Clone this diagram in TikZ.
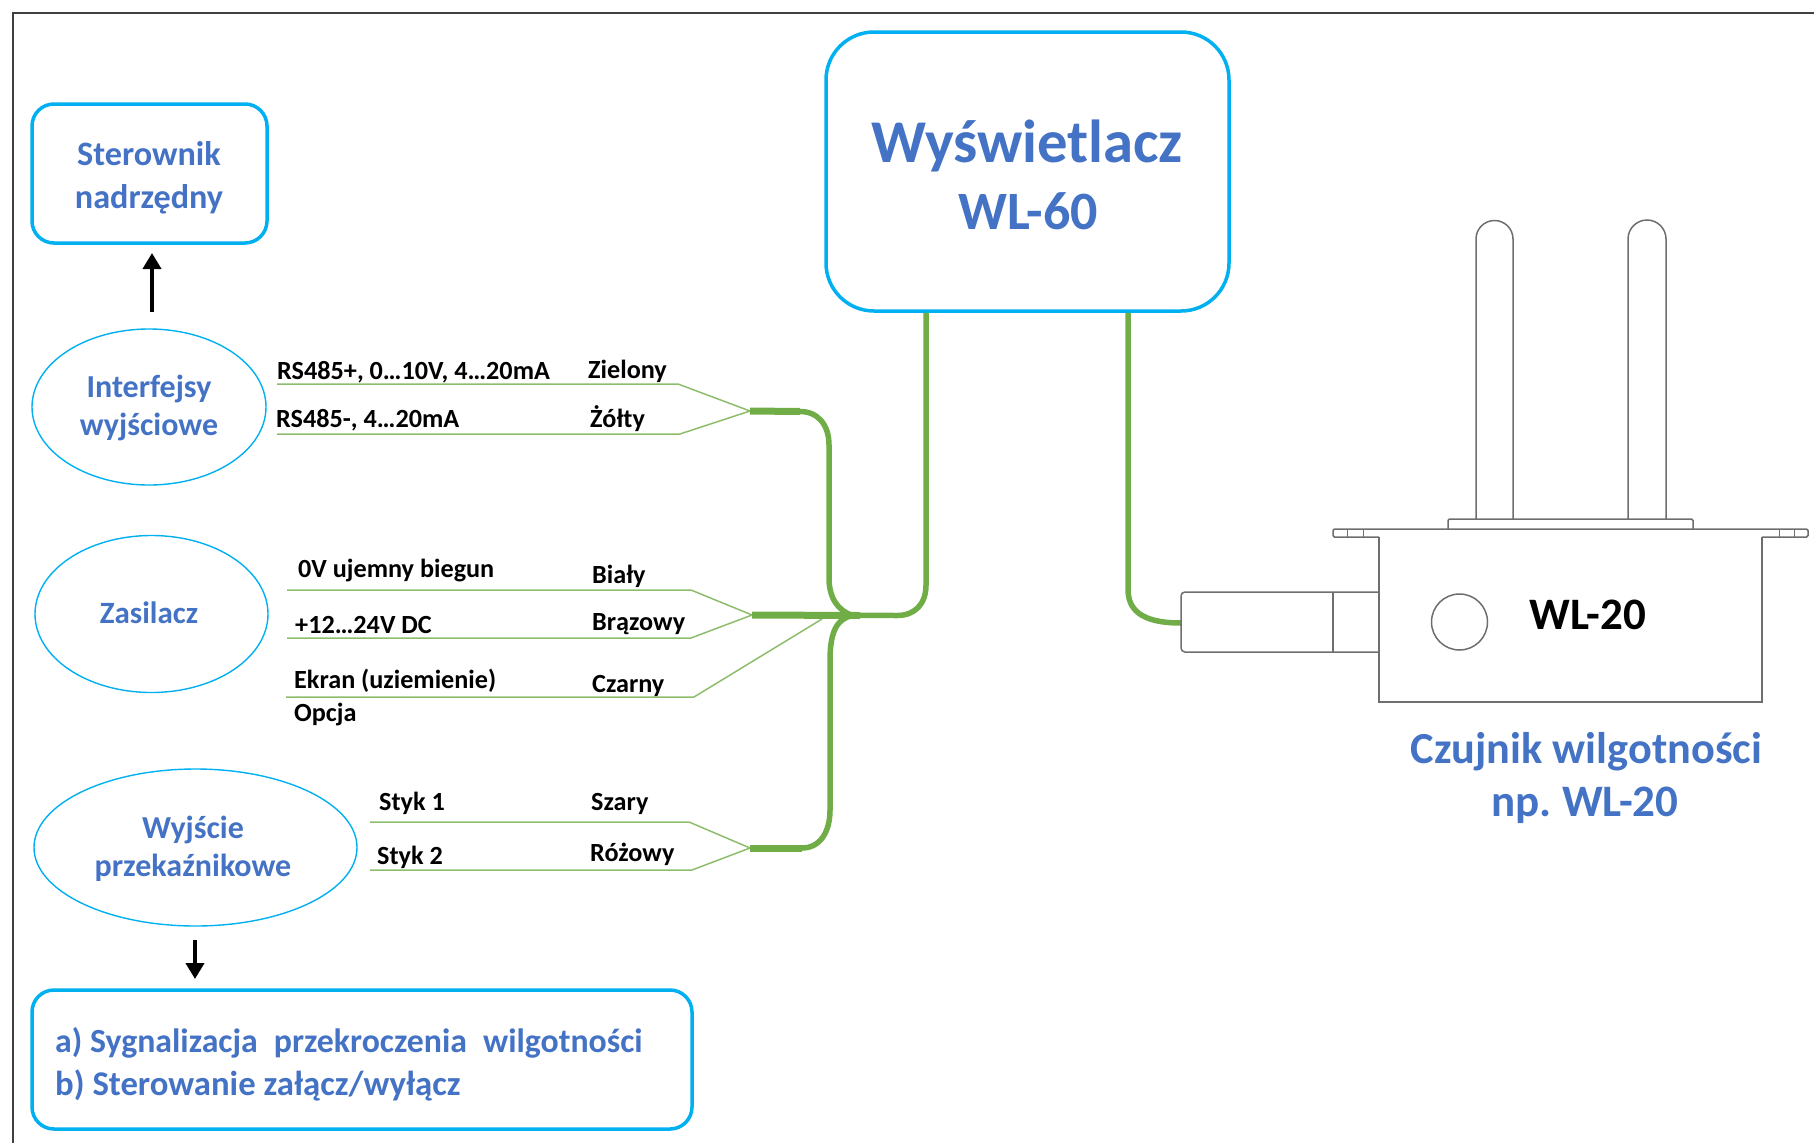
\documentclass[tikz,border=0pt]{standalone}
\usepackage{fontspec}
\setmainfont{Carlito}
\usetikzlibrary{shapes.geometric,arrows.meta}
\definecolor{cyanline}{HTML}{00B0F0}
\definecolor{bluetext}{HTML}{4472C4}
\definecolor{wire}{HTML}{70AD47}
\definecolor{sensorline}{HTML}{6E6E6E}
\tikzset{
  roundbox/.style={draw=cyanline,line width=3.5pt,rounded corners=#1,inner sep=0pt,fill=white},
  oval/.style={ellipse,draw=cyanline,line width=1.4pt,inner sep=0pt},
  bluelabel/.style={text=bluetext,font=\bfseries\fontsize{32}{38}\selectfont,align=center,inner sep=0pt},
  wirelabel/.style={text=black,font=\bfseries\fontsize{26.2}{30}\selectfont,anchor=base west,inner sep=0pt,yshift=-1pt},
  thinwire/.style={draw=wire!80!white,line width=1.5pt},
  thickwire/.style={draw=wire,line width=5.5pt},
  stub/.style={draw=wire,line width=7pt},
  flowarrow/.style={draw=black,line width=4.5pt,-{Triangle[width=18pt,length=16pt]}},
  sensor/.style={draw=sensorline,line width=1.5pt},
}
\begin{document}
\begin{tikzpicture}[x=1pt,y=-1pt]
\useasboundingbox (0,0) rectangle (1814,1143);
% frame
\coordinate (fa) at (13,1143);
\coordinate (fb) at (13,13);
\coordinate (fc) at (1814,13);
\draw[draw=black!75,line width=2.5pt] (fa) -- (fb) -- (fc);

% boxes
\node[roundbox=22pt,minimum width=235pt,minimum height=139pt] (ster) at (149.5,173.5) {};
\node[bluelabel,font=\bfseries\fontsize{34.2}{43}\selectfont] (stertxt) at (149,177.5) {Sterownik\\nadrzędny};
\node[roundbox=22pt,minimum width=660pt,minimum height=139pt] (bottom) at (362,1059.5) {};
\node[bluelabel,anchor=west,align=left,font=\bfseries\fontsize{33.8}{43}\selectfont] (bottomtxt) at (55,1064.5) {a)~Sygnalizacja\hspace{0.25em} przekroczenia\hspace{0.25em} wilgotności\\\fontsize{34.7}{43}\selectfont b) Sterowanie załącz/wyłącz};
\node[roundbox=48pt,minimum width=403pt,minimum height=279pt] (disp) at (1027.5,171.5) {};
\node[bluelabel,font=\bfseries\fontsize{60.7}{64}\selectfont] (disptitle) at (1027,146) {Wyświetlacz};
\node[bluelabel,font=\bfseries\fontsize{54}{56}\selectfont] (dispmodel) at (1028,211) {WL-60};

% ovals
\node[oval,minimum width=234pt,minimum height=156pt] (iface) at (149,407) {};
\node[bluelabel] (ifacetxt) at (149,408) {Interfejsy\\wyjściowe};
\node[oval,minimum width=233pt,minimum height=157pt] (psu) at (151.5,614) {};
\node[bluelabel,font=\bfseries\fontsize{31}{38}\selectfont] (psutxt) at (149,613) {Zasilacz};
\node[oval,minimum width=323pt,minimum height=157pt] (relay) at (195.5,847.5) {};
\node[bluelabel] (relaytxt) at (193,849) {Wyjście\\przekaźnikowe};

% arrows
\coordinate (upa) at (152,312);
\coordinate (upb) at (152,253);
\coordinate (dna) at (195,940);
\coordinate (dnb) at (195,979);
\draw[flowarrow] (upa) -- (upb);
\draw[flowarrow] (dna) -- (dnb);

% thin wires
\coordinate (a1) at (277,384); \coordinate (a2) at (678,384);
\coordinate (b1) at (277,434); \coordinate (b2) at (680,434);
\coordinate (ab) at (750,411);
\draw[thinwire] (a1) -- (a2) -- (ab);
\draw[thinwire] (b1) -- (b2) -- (ab);
\coordinate (c1) at (287,590); \coordinate (c2) at (691,590);
\coordinate (d1) at (287,638); \coordinate (d2) at (691,638);
\coordinate (e1) at (286,697); \coordinate (e2) at (694,697);
\coordinate (cd) at (752,615); \coordinate (ee) at (822,619);
\draw[thinwire] (c1) -- (c2) -- (cd);
\draw[thinwire] (d1) -- (d2) -- (cd);
\draw[thinwire] (e1) -- (e2) -- (ee);
\coordinate (f1) at (370,822); \coordinate (f2) at (689,822);
\coordinate (g1) at (370,870); \coordinate (g2) at (692,870);
\coordinate (fg) at (750,848);
\draw[thinwire] (f1) -- (f2) -- (fg);
\draw[thinwire] (g1) -- (g2) -- (fg);

% thick wires
\coordinate (j1) at (853,615.5);
\draw[stub] (ab) -- (800,411.5);
\draw[stub] (cd) -- (860,615.5);
\draw[stub] (fg) -- (802,848);
\draw[thickwire] (800,411.5) .. controls (818,411.5) and (829,425) .. (829,445) -- (829,578) .. controls (829,598) and (838,611) .. (j1);
\draw[thickwire] (cd) -- (897,615.5) .. controls (915,615.5) and (926,604) .. (926,585) -- (disp.south -| 926,0);
\draw[thickwire] (j1) .. controls (838,618) and (830,630) .. (830,660) -- (830,810) .. controls (830,832) and (820,848) .. (802,848);
\coordinate (con) at (1181,623);
\draw[thickwire] (disp.south -| 1128,0) -- (1128,589) .. controls (1128,609) and (1140,623) .. (con);

% sensor
\draw[sensor] (1476,519) -- (1476,239) arc[start angle=180,end angle=360,radius=18.5] -- (1513,519);
\draw[sensor] (1628,519) -- (1628,239) arc[start angle=180,end angle=360,radius=19] -- (1666,519);
\draw[sensor,rounded corners=1.5pt] (1448,529) -- (1448,519) -- (1693,519) -- (1693,529);
\draw[sensor,rounded corners=1.5pt] (1379,537) -- (1333,537) -- (1333,529) -- (1808,529) -- (1808,537) -- (1762,537);
\draw[sensor] (1379,537) -- (1379,702) -- (1762,702) -- (1762,537);
\foreach \tx in {1347,1363,1779,1794} \draw[sensor,line width=1pt] (\tx,529) -- (\tx,537);
\node[circle,sensor,minimum size=56pt,inner sep=0pt] (lamp) at (1459.5,622) {};
\draw[sensor,rounded corners=4pt] (1379,592) -- (1181,592) -- (1181,652) -- (1379,652);
\draw[sensor] (1333,592) -- (1333,652);
\node[text=black,font=\bfseries\fontsize{45}{47}\selectfont,inner sep=0pt] (wl) at (1588,615) {WL-20};
\node[bluelabel,font=\bfseries\fontsize{44.3}{46}\selectfont] (cap1) at (1586.5,752) {Czujnik wilgotności};
\node[bluelabel,font=\bfseries\fontsize{45}{46}\selectfont] (cap2) at (1585,805) {np.\ WL-20};

% wire labels
\node[wirelabel] (l1) at (277,378) {RS485+, 0…10V, 4…20mA};
\node[wirelabel] (l2) at (276,426) {RS485-, 4…20mA};
\node[wirelabel] (r1) at (588,377) {Zielony};
\node[wirelabel] (r2) at (590,426) {Żółty};
\node[wirelabel] (l3) at (298,576) {0V ujemny biegun};
\node[wirelabel] (r3) at (592,582) {Biały};
\node[wirelabel] (l4) at (295,632) {+12…24V DC};
\node[wirelabel] (r4) at (592,629) {Brązowy};
\node[wirelabel] (l5) at (294,687) {Ekran (uziemienie)};
\node[wirelabel] (r5) at (592,691) {Czarny};
\node[wirelabel] (l6) at (294,720) {Opcja};
\node[wirelabel] (l7) at (379,809) {Styk 1};
\node[wirelabel] (r7) at (591,809) {Szary};
\node[wirelabel] (l8) at (377,863) {Styk 2};
\node[wirelabel] (r8) at (590,860) {Różowy};
\end{tikzpicture}
\end{document}
